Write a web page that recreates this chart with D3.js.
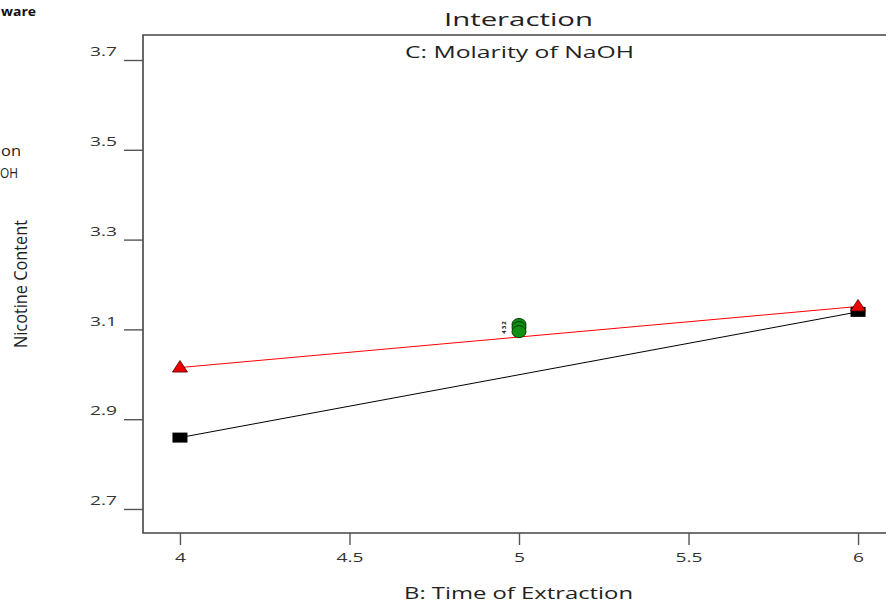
<!DOCTYPE html>
<html><head><meta charset="utf-8">
<script src="https://cdn.jsdelivr.net/npm/d3@7"></script>
<style>
body{margin:0;background:#fff;}
svg{display:block;}
</style></head>
<body>
<svg id="chart" width="886" height="604"></svg>
<script>
const xTicks = [4, 4.5, 5, 5.5, 6];
const xTickLabels = ["4", "4.5", "5", "5.5", "6"];
const yTicks = [2.7, 2.9, 3.1, 3.3, 3.5, 3.7];
const yTickLabels = ["2.7", "2.9", "3.1", "3.3", "3.5", "3.7"];
const timeLevels = [4, 6];
const lowNaOH = [2.859, 3.139];   // black squares
const highNaOH = [3.015, 3.151];  // red triangles
const centerX = [5, 5, 5];
const centerY = [3.111, 3.104, 3.095];
const centerLabels = ["2", "3", "4"];

(function () {
const svg = d3.select("#chart");
const font = "'Open Sans', 'Noto Sans', sans-serif";
const pL = 143, pT = 35, pB = 533, pR = 895;
const sx = 1.6;

const x = d3.scaleLinear().domain([3.891, 6.109]).range([pL, pR]);
const y = d3.scaleLinear().domain([2.6465, 3.7557]).range([pB, pT]);

function stretched(txt, cx, cy, size, anchor, weight, len) {
  return svg.append("text").attr("x", cx).attr("y", cy).attr("text-anchor", anchor)
    .attr("font-family", font).attr("font-size", size).attr("font-weight", weight || "normal")
    .attr("fill", "#222").attr("textLength", len).attr("lengthAdjust", "spacingAndGlyphs")
    .text(txt);
}

// Legend fragments visible at the left edge
stretched("ware", 36, 16, 13, "end", "bold", 35).attr("fill", "#111");
stretched("on", 21, 156, 15, "end", "normal", 20);
stretched("OH", 18, 178, 15, "end", "normal", 18);

// Frame
svg.append("path")
  .attr("d", `M${pR},${pT}H${pL}V${pB}H${pR}`)
  .attr("fill", "none").attr("stroke", "#444").attr("stroke-width", 1.6);

// Y axis
const yAxis = d3.axisLeft(y).tickValues(yTicks).tickSize(19)
  .tickFormat((d, i) => yTickLabels[i]);
const gy = svg.append("g").attr("transform", `translate(${pL},0)`).call(yAxis);
gy.select(".domain").remove();
gy.selectAll(".tick line").attr("stroke", "#555").attr("stroke-width", 1.4);
gy.selectAll(".tick text").attr("x", -26 / sx).attr("dy", "-0.35em")
  .attr("transform", `scale(${sx},1)`)
  .attr("font-family", font).attr("font-size", 12).attr("fill", "#333");

// X axis
const xAxis = d3.axisBottom(x).tickValues(xTicks).tickSize(12)
  .tickFormat((d, i) => xTickLabels[i]);
const gx = svg.append("g").attr("transform", `translate(0,${pB})`).call(xAxis);
gx.select(".domain").remove();
gx.selectAll(".tick line").attr("stroke", "#555").attr("stroke-width", 1.4);
gx.selectAll(".tick text").attr("y", 20).attr("transform", `scale(${sx},1)`)
  .attr("font-family", font).attr("font-size", 12).attr("fill", "#333");

// Titles
stretched("Interaction", 518.5, 26, 18, "middle", "normal", 149);
stretched("C: Molarity of NaOH", 519.5, 58, 16, "middle", "normal", 229);
stretched("B: Time of Extraction", 518.5, 599, 16, "middle", "normal", 229);
svg.append("text")
  .attr("transform", "translate(27,284) rotate(-90)")
  .attr("text-anchor", "middle")
  .attr("font-family", font)
  .attr("font-size", 19).attr("fill", "#222")
  .attr("textLength", 128).attr("lengthAdjust", "spacingAndGlyphs")
  .text("Nicotine Content");

// Lines
const line = d3.line().x(d => x(d[0])).y(d => y(d[1]));
svg.append("path").datum(timeLevels.map((t, i) => [t, lowNaOH[i]]))
  .attr("d", line).attr("fill", "none").attr("stroke", "#000").attr("stroke-width", 1);
svg.append("path").datum(timeLevels.map((t, i) => [t, highNaOH[i]]))
  .attr("d", line).attr("fill", "none").attr("stroke", "#ff0000").attr("stroke-width", 1);

// Center points
svg.selectAll("ellipse.cp").data(centerY).enter().append("ellipse")
  .attr("cx", (d, i) => x(centerX[i])).attr("cy", d => y(d))
  .attr("rx", 7).attr("ry", 6)
  .attr("fill", "#109010").attr("stroke", "#063806").attr("stroke-width", 1);
svg.selectAll("text.cl").data(centerLabels).enter().append("text")
  .attr("transform", (d, i) => `translate(${x(centerX[i]) - 15},${y(centerY[1]) + (i - 1) * 4.5}) rotate(-90)`)
  .attr("text-anchor", "middle").attr("dy", "0.35em")
  .attr("font-family", font).attr("font-size", 6).attr("font-weight", "bold").attr("fill", "#111")
  .text(d => d);

// Squares (low level)
svg.selectAll("rect.sq").data(lowNaOH).enter().append("rect")
  .attr("x", (d, i) => x(timeLevels[i]) - 7.5).attr("y", d => y(d) - 5)
  .attr("width", 15).attr("height", 10).attr("fill", "#000");

// Triangles (high level)
const tri = (cx, cy) => `M${cx},${cy - 7}L${cx + 7.5},${cy + 4.5}L${cx - 7.5},${cy + 4.5}Z`;
svg.selectAll("path.tri").data(highNaOH).enter().append("path")
  .attr("d", (d, i) => tri(x(timeLevels[i]), y(d)))
  .attr("fill", "#ee0000").attr("stroke", "#400").attr("stroke-width", 0.8);
})();
</script>
</body></html>
